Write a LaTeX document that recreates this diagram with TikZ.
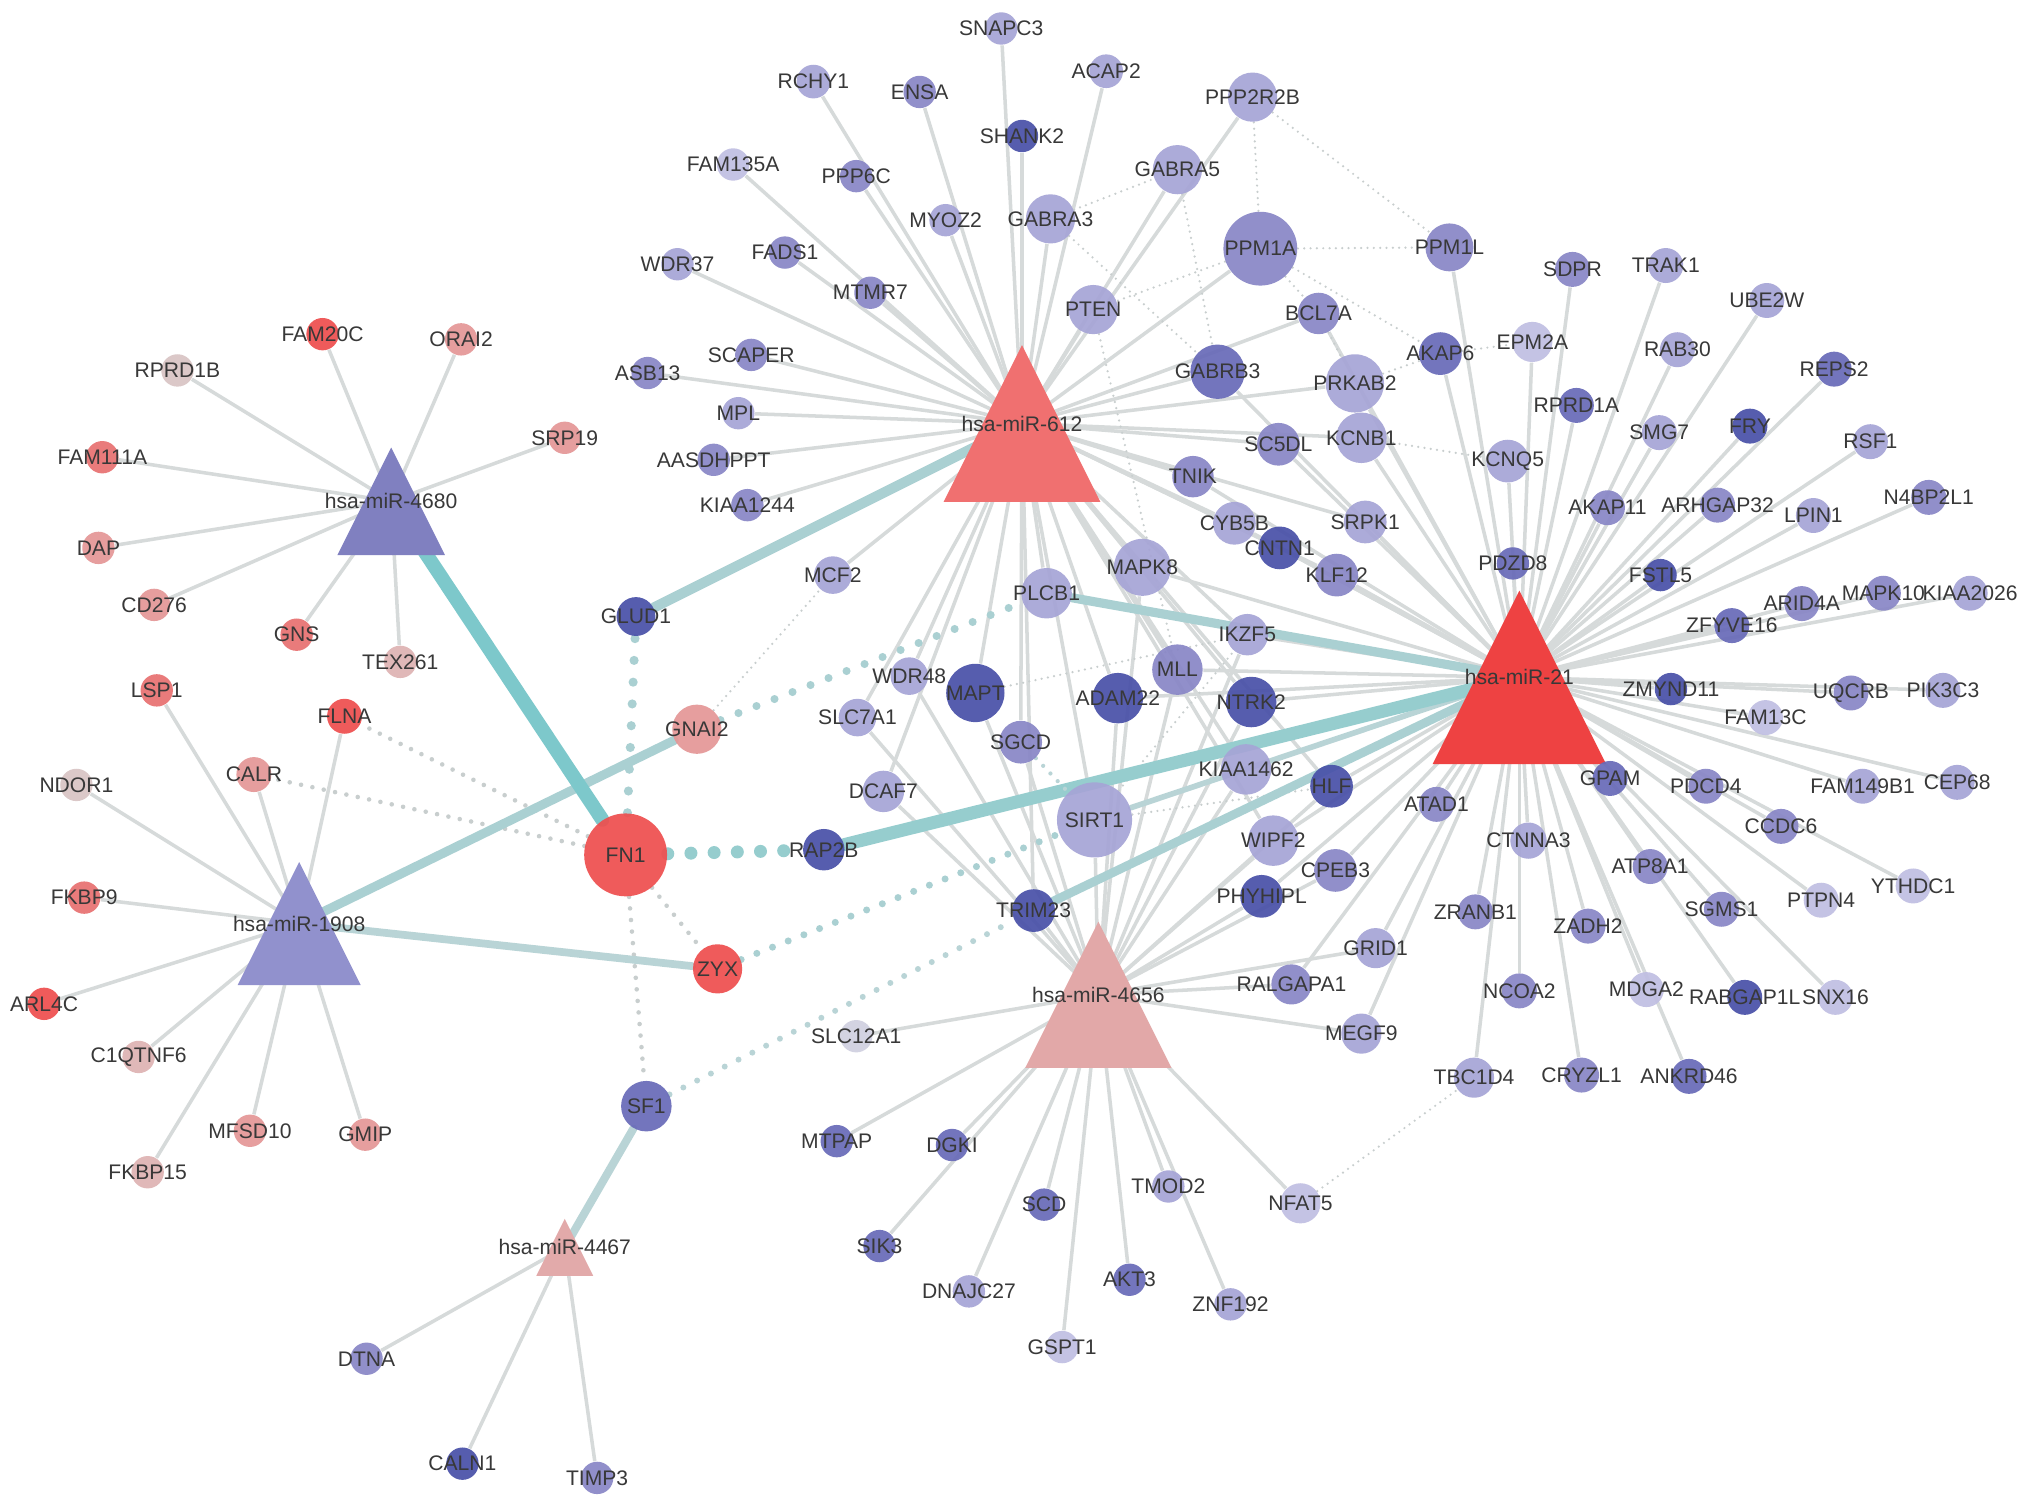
\documentclass[tikz,border=0pt]{standalone}
\usepackage{fontspec}
\setmainfont{Liberation Sans}
\pgfdeclarelayer{bg}
\pgfsetlayers{bg,main}
\definecolor{bA}{RGB}{72,80,168}
\definecolor{bB}{RGB}{104,106,184}
\definecolor{bC}{RGB}{136,134,198}
\definecolor{bD}{RGB}{166,164,214}
\definecolor{bE}{RGB}{192,190,226}
\definecolor{bF}{RGB}{208,208,224}
\definecolor{rA}{RGB}{238,78,78}
\definecolor{rB}{RGB}{232,112,112}
\definecolor{rC}{RGB}{228,150,150}
\definecolor{rD}{RGB}{222,178,178}
\definecolor{rE}{RGB}{216,196,196}
\definecolor{txt}{RGB}{56,56,56}
\definecolor{eg}{RGB}{214,218,218}
\definecolor{dotg}{RGB}{200,206,206}
\definecolor{tealA}{RGB}{125,200,203}
\definecolor{tealB}{RGB}{150,205,206}
\definecolor{tealC}{RGB}{170,208,210}
\definecolor{tealD}{RGB}{185,212,214}
\definecolor{hub612}{RGB}{240,112,112}
\definecolor{hub21}{RGB}{238,66,66}
\definecolor{hub4656}{RGB}{226,168,168}
\definecolor{hub4680}{RGB}{128,128,192}
\definecolor{hub1908}{RGB}{145,145,205}
\definecolor{hub4467}{RGB}{226,170,170}
\tikzset{
  lab/.style={font=\fontsize{6}{7}\selectfont, text=txt, inner sep=0pt},
  gn/.style={circle, inner sep=0pt, draw=none, fill opacity=0.92, text opacity=1,
    font=\fontsize{6}{7}\selectfont, text=txt},
  gedge/.style={draw=eg, line width=1pt},
  tline/.style={line width=#1, line cap=round},
  dthin/.style={draw=dotg, line width=0.7pt, dash pattern=on 0pt off 1.8pt, line cap=round},
  dmed/.style={draw=dotg, line width=1.3pt, dash pattern=on 0pt off 3.3pt, line cap=round},
}
\newcommand{\gnode}[5]{\node[gn, minimum size=#4*0.12953mm, fill=#5] (#1) at (#2,#3) {\makebox[0pt]{#1}};}
\newcommand{\hubnode}[6]{%
  \fill[#5] ({#2-#4/2},{#3+#4/2}) -- ({#2+#4/2},{#3+#4/2}) -- (#2,{#3-#4/2}) -- cycle;
  \node[lab] (#1) at (#2,#3) {#6};}
\begin{document}
\begin{tikzpicture}[x=0.012953cm, y=-0.012953cm]
\useasboundingbox (0,0) rectangle (1568,1165);
% hubs
\hubnode{m612}{789}{327}{121}{hub612}{hsa-miR-612}
\hubnode{m21}{1173}{523}{134}{hub21}{hsa-miR-21}
\hubnode{m4656}{848}{768}{113}{hub4656}{hsa-miR-4656}
\hubnode{m4680}{302}{387}{83}{hub4680}{hsa-miR-4680}
\hubnode{m1908}{231}{713}{95}{hub1908}{hsa-miR-1908}
\hubnode{m4467}{436}{963}{44}{hub4467}{hsa-miR-4467}
% left / red cluster
\gnode{FAM20C}{249}{258}{25}{rA}
\gnode{ORAI2}{356}{262}{25}{rC}
\gnode{RPRD1B}{137}{286}{25}{rE}
\gnode{SRP19}{436}{338}{25}{rC}
\gnode{FAM111A}{79}{353}{25}{rB}
\gnode{DAP}{76}{423}{25}{rC}
\gnode{CD276}{119}{467}{25}{rC}
\gnode{GNS}{229}{490}{25}{rB}
\gnode{TEX261}{309}{511}{25}{rD}
\gnode{LSP1}{121}{533}{25}{rB}
\gnode{FLNA}{266}{553}{27}{rA}
\gnode{CALR}{196}{598}{27}{rC}
\gnode{NDOR1}{59}{606}{25}{rE}
\gnode{FKBP9}{65}{693}{25}{rB}
\gnode{ARL4C}{34}{775}{25}{rA}
\gnode{C1QTNF6}{107}{816}{25}{rD}
\gnode{MFSD10}{193}{873}{25}{rC}
\gnode{GMIP}{282}{876}{25}{rC}
\gnode{FKBP15}{114}{905}{25}{rD}
\gnode{FN1}{483}{660}{64}{rA}
\gnode{GNAI2}{538}{563}{38}{rC}
\gnode{ZYX}{554}{748}{38}{rA}
\gnode{SF1}{499}{854}{39}{bB}
\gnode{DTNA}{283}{1049}{25}{bC}
\gnode{CALN1}{357}{1130}{25}{bA}
\gnode{TIMP3}{461}{1141}{25}{bC}
\gnode{GLUD1}{491}{476}{30}{bA}
% top cluster
\gnode{SNAPC3}{773}{22}{25}{bD}
\gnode{RCHY1}{628}{63}{26}{bD}
\gnode{ENSA}{710}{71}{25}{bC}
\gnode{ACAP2}{854}{55}{26}{bD}
\gnode{PPP2R2B}{967}{75}{38}{bD}
\gnode{SHANK2}{789}{105}{25}{bA}
\gnode{FAM135A}{566}{127}{25}{bE}
\gnode{PPP6C}{661}{136}{25}{bC}
\gnode{GABRA5}{909}{131}{38}{bD}
\gnode{MYOZ2}{730}{170}{25}{bD}
\gnode{GABRA3}{811}{169}{38}{bD}
\gnode{PPM1A}{973}{192}{57}{bC}
\gnode{PPM1L}{1119}{191}{37}{bC}
\gnode{WDR37}{523}{204}{25}{bD}
\gnode{FADS1}{606}{195}{25}{bC}
\gnode{MTMR7}{672}{226}{25}{bC}
\gnode{PTEN}{844}{239}{38}{bD}
\gnode{BCL7A}{1018}{242}{32}{bC}
\gnode{SDPR}{1214}{208}{27}{bC}
\gnode{TRAK1}{1286}{205}{27}{bD}
\gnode{UBE2W}{1364}{232}{27}{bD}
\gnode{ASB13}{500}{288}{25}{bC}
\gnode{SCAPER}{580}{274}{25}{bC}
\gnode{GABRB3}{940}{287}{42}{bB}
\gnode{PRKAB2}{1046}{296}{45}{bD}
\gnode{AKAP6}{1112}{273}{33}{bB}
\gnode{EPM2A}{1183}{264}{31}{bE}
\gnode{RAB30}{1295}{270}{27}{bD}
\gnode{REPS2}{1416}{285}{27}{bB}
\gnode{MPL}{570}{319}{25}{bD}
\gnode{RPRD1A}{1217}{313}{27}{bB}
\gnode{SMG7}{1281}{334}{27}{bD}
\gnode{FRY}{1351}{329}{27}{bA}
\gnode{RSF1}{1444}{341}{27}{bD}
\gnode{AASDHPPT}{551}{355}{25}{bC}
\gnode{SC5DL}{987}{343}{33}{bC}
\gnode{KCNB1}{1051}{338}{39}{bD}
\gnode{KCNQ5}{1164}{356}{33}{bD}
\gnode{KIAA1244}{577}{390}{25}{bC}
\gnode{TNIK}{921}{368}{32}{bC}
\gnode{CYB5B}{953}{404}{33}{bD}
\gnode{SRPK1}{1054}{403}{33}{bD}
\gnode{AKAP11}{1241}{392}{27}{bC}
\gnode{ARHGAP32}{1326}{390}{27}{bC}
\gnode{LPIN1}{1400}{398}{27}{bD}
\gnode{N4BP2L1}{1489}{384}{27}{bC}
\gnode{MCF2}{643}{444}{29}{bD}
\gnode{PLCB1}{808}{458}{39}{bD}
\gnode{MAPK8}{882}{438}{44}{bD}
\gnode{CNTN1}{988}{423}{33}{bA}
\gnode{KLF12}{1032}{444}{33}{bC}
\gnode{PDZD8}{1168}{435}{25}{bB}
\gnode{FSTL5}{1282}{444}{25}{bA}
\gnode{ARID4A}{1391}{466}{27}{bC}
\gnode{MAPK10}{1454}{458}{27}{bC}
\gnode{KIAA2026}{1521}{458}{27}{bD}
\gnode{ZFYVE16}{1337}{483}{27}{bB}
\gnode{IKZF5}{963}{490}{32}{bD}
\gnode{MLL}{909}{517}{39}{bC}
\gnode{WDR48}{702}{522}{29}{bD}
\gnode{MAPT}{753}{535}{45}{bA}
\gnode{ADAM22}{863}{539}{39}{bA}
\gnode{NTRK2}{966}{542}{39}{bA}
\gnode{SLC7A1}{662}{554}{29}{bD}
\gnode{SGCD}{788}{573}{33}{bC}
\gnode{ZMYND11}{1290}{532}{25}{bA}
\gnode{UQCRB}{1429}{535}{27}{bC}
\gnode{PIK3C3}{1500}{533}{27}{bD}
\gnode{FAM13C}{1363}{554}{27}{bE}
\gnode{KIAA1462}{962}{594}{39}{bD}
\gnode{HLF}{1028}{607}{33}{bA}
\gnode{DCAF7}{682}{611}{32}{bD}
\gnode{SIRT1}{845}{633}{58}{bD}
\gnode{RAP2B}{636}{656}{32}{bA}
\gnode{GPAM}{1243}{601}{27}{bB}
\gnode{PDCD4}{1317}{607}{27}{bC}
\gnode{FAM149B1}{1438}{607}{27}{bD}
\gnode{CEP68}{1511}{604}{27}{bD}
\gnode{ATAD1}{1109}{621}{27}{bC}
\gnode{WIPF2}{983}{649}{39}{bD}
\gnode{CTNNA3}{1180}{649}{28}{bD}
\gnode{CCDC6}{1375}{638}{27}{bC}
\gnode{CPEB3}{1031}{672}{33}{bC}
\gnode{ATP8A1}{1274}{669}{27}{bC}
\gnode{YTHDC1}{1477}{684}{27}{bE}
\gnode{PHYHIPL}{974}{692}{33}{bA}
\gnode{SGMS1}{1329}{702}{27}{bC}
\gnode{PTPN4}{1406}{695}{27}{bE}
\gnode{TRIM23}{798}{703}{33}{bA}
\gnode{ZRANB1}{1139}{704}{27}{bC}
\gnode{ZADH2}{1226}{715}{27}{bC}
\gnode{GRID1}{1062}{732}{31}{bD}
\gnode{RALGAPA1}{997}{760}{31}{bC}
\gnode{NCOA2}{1173}{765}{27}{bC}
\gnode{MDGA2}{1271}{764}{27}{bE}
\gnode{RABGAP1L}{1347}{770}{27}{bA}
\gnode{SNX16}{1417}{770}{27}{bE}
\gnode{MEGF9}{1051}{798}{31}{bD}
\gnode{SLC12A1}{661}{800}{25}{bF}
\gnode{TBC1D4}{1138}{832}{31}{bD}
\gnode{CRYZL1}{1221}{830}{27}{bC}
\gnode{ANKRD46}{1304}{831}{27}{bB}
\gnode{MTPAP}{646}{881}{25}{bB}
\gnode{DGKI}{735}{884}{25}{bB}
\gnode{SCD}{806}{930}{25}{bB}
\gnode{TMOD2}{902}{916}{25}{bD}
\gnode{NFAT5}{1004}{929}{31}{bE}
\gnode{SIK3}{679}{962}{25}{bB}
\gnode{AKT3}{872}{988}{25}{bB}
\gnode{DNAJC27}{748}{997}{25}{bD}
\gnode{ZNF192}{950}{1007}{25}{bD}
\gnode{GSPT1}{820}{1040}{25}{bE}
% edges
\begin{pgfonlayer}{bg}
\fill[white] (0,0) rectangle (1568,1165);
\foreach \n in {SNAPC3,RCHY1,ENSA,ACAP2,SHANK2,FAM135A,PPP6C,GABRA5,MYOZ2,GABRA3,PPP2R2B,PPM1A,WDR37,FADS1,MTMR7,PTEN,BCL7A,ASB13,SCAPER,GABRB3,PRKAB2,MPL,AASDHPPT,SC5DL,KCNB1,KIAA1244,TNIK,CYB5B,MCF2,PLCB1,MAPK8,CNTN1,KLF12,SRPK1,MLL,WDR48,MAPT,ADAM22,NTRK2,SLC7A1,SGCD,KIAA1462,DCAF7,SIRT1,IKZF5,WIPF2,HLF,TRIM23}
  \draw[gedge] (m612.center) -- (\n);
\foreach \n in {PPM1L,AKAP6,EPM2A,SDPR,TRAK1,UBE2W,RAB30,RPRD1A,SMG7,FRY,REPS2,RSF1,KCNQ5,AKAP11,ARHGAP32,LPIN1,N4BP2L1,PDZD8,FSTL5,ARID4A,MAPK10,KIAA2026,ZFYVE16,ZMYND11,UQCRB,PIK3C3,FAM13C,GPAM,PDCD4,FAM149B1,CEP68,ATAD1,CTNNA3,CCDC6,ATP8A1,YTHDC1,SGMS1,PTPN4,ZRANB1,ZADH2,NCOA2,MDGA2,RABGAP1L,SNX16,TBC1D4,CRYZL1,ANKRD46,GRID1,MEGF9,RALGAPA1,PHYHIPL,CPEB3,WIPF2,HLF,KIAA1462,NTRK2,MLL,IKZF5,KLF12,CNTN1,SRPK1,KCNB1,PRKAB2,SC5DL,TNIK,MAPK8,GABRB3,BCL7A,CYB5B,ADAM22}
  \draw[gedge] (m21.center) -- (\n);
\foreach \n in {SLC12A1,MTPAP,DGKI,SIK3,SCD,DNAJC27,GSPT1,AKT3,TMOD2,ZNF192,NFAT5,MEGF9,RALGAPA1,GRID1,PHYHIPL,CPEB3,WIPF2,HLF,KIAA1462,NTRK2,MLL,ADAM22,MAPK8,SGCD,MAPT,WDR48,SLC7A1,DCAF7,TRIM23,SIRT1,IKZF5}
  \draw[gedge] (m4656.center) -- (\n);
\foreach \n in {FAM20C,ORAI2,RPRD1B,SRP19,FAM111A,DAP,CD276,GNS,TEX261}
  \draw[gedge] (m4680.center) -- (\n);
\foreach \n in {LSP1,FLNA,CALR,NDOR1,FKBP9,ARL4C,C1QTNF6,MFSD10,GMIP,FKBP15}
  \draw[gedge] (m1908.center) -- (\n);
\foreach \n in {DTNA,CALN1,TIMP3}
  \draw[gedge] (m4467.center) -- (\n);
% thin dotted interactions
\foreach \a/\b in {PPP2R2B/PPM1L,PPP2R2B/PPM1A,PPM1A/PPM1L,PPM1A/PTEN,PPM1A/AKAP6,PPM1A/BCL7A,GABRA3/GABRA5,GABRA3/GABRB3,GABRA5/GABRB3,PTEN/MLL,PRKAB2/AKAP6,AKAP6/EPM2A,KCNB1/KCNQ5,BCL7A/PRKAB2,NFAT5/TBC1D4,SIRT1/HLF,SIRT1/IKZF5,MAPT/IKZF5,GNAI2/MCF2}
  \draw[dthin] (\a) -- (\b);
\foreach \b in {FLNA,CALR,ZYX,SF1}
  \draw[dmed] (FN1) -- (\b);
% teal solid
\draw[tealD, tline=1.6pt] (m21.center) -- (SIRT1);
\draw[tealC, tline=2.6pt] (m21.center) -- (PLCB1);
\draw[tealC, tline=2.5pt] (m21.center) -- (TRIM23);
\draw[tealB, tline=3.7pt] (m21.center) -- (RAP2B);
\draw[tealC, tline=2.9pt] (m612.center) -- (GLUD1);
\draw[tealC, tline=2.6pt] (m1908.center) -- (GNAI2);
\draw[tealD, tline=2.2pt] (m1908.center) -- (ZYX);
\draw[tealD, tline=2.3pt] (m4467.center) -- (SF1);
\draw[tealA, tline=4pt] (m4680.center) -- (FN1);
% teal dotted
\draw[tealB, line width=3.7pt, dash pattern=on 0pt off 6.6pt, line cap=round] (FN1) -- (RAP2B);
\draw[tealC, line width=2.6pt, dash pattern=on 0pt off 6.2pt, line cap=round] (FN1) -- (GLUD1);
\draw[tealC, line width=2.3pt, dash pattern=on 0pt off 5.5pt, line cap=round] (GNAI2) -- (PLCB1);
\draw[tealC, line width=2pt, dash pattern=on 0pt off 4.8pt, line cap=round] (ZYX) -- (SIRT1);
\draw[tealD, line width=1.7pt, dash pattern=on 0pt off 4.4pt, line cap=round] (SF1) -- (TRIM23);
\draw[tealD, line width=1.2pt, dash pattern=on 0pt off 3pt, line cap=round] (SGCD) -- (SIRT1);
\end{pgfonlayer}
\end{tikzpicture}
\end{document}
